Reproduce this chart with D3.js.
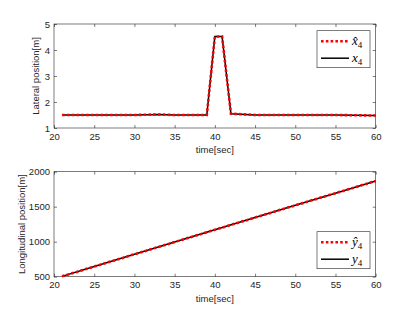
<!DOCTYPE html>
<html>
<head>
<meta charset="utf-8">
<script src="https://cdn.jsdelivr.net/npm/d3@7"></script>
<style>
  body { margin: 0; background: #fff; }
  svg { display: block; font-family: "Liberation Sans", Arial, sans-serif; }
  .axis text { fill: #262626; font-size: 9.5px; }
  .axis path, .axis line { stroke: #262626; stroke-width: 0.6; }
  .lbl { fill: #262626; font-size: 9.5px; }
  .est { fill: none; stroke: #ff0000; stroke-width: 2.6; stroke-dasharray: 2.6 2.2; }
  .act { fill: none; stroke: #000; stroke-width: 1.5; }
  .leg text { font-family: "Liberation Serif", "DejaVu Serif", serif; font-style: italic; font-size: 13px; fill: #000; }
</style>
</head>
<body>
<svg id="chart" width="415" height="312"></svg>
<script>
// lateral position (top)
var latTime = [21, 25, 30, 33, 35, 39, 40, 40.9, 42, 45, 50, 55, 60];
var latEst  = [1.5, 1.5, 1.5, 1.52, 1.5, 1.5, 4.52, 4.52, 1.55, 1.5, 1.5, 1.5, 1.48];
var latAct  = [1.5, 1.5, 1.5, 1.52, 1.5, 1.5, 4.52, 4.52, 1.55, 1.5, 1.5, 1.5, 1.48];

// longitudinal position (bottom)
var lonTime = [21, 25, 30, 35, 40, 45, 50, 55, 60];
var lonEst  = [505, 645, 820, 995, 1170, 1345, 1520, 1693, 1867];
var lonAct  = [505, 645, 820, 995, 1170, 1345, 1520, 1693, 1867];

var xTicks = [20, 25, 30, 35, 40, 45, 50, 55, 60];
var latTicks = [1, 2, 3, 4, 5];
var lonTicks = [500, 1000, 1500, 2000];

var svg = d3.select("#chart");
var left = 54, right = 375.7;

function panel(top, bottom, yDomain, yTicks, time, est, act, ylabel, yLabelX, legY, legNames) {
  var x = d3.scaleLinear().domain([20, 60]).range([left, right]);
  var y = d3.scaleLinear().domain(yDomain).range([bottom, top]);
  var g = svg.append("g");

  // box + mirrored ticks
  g.append("g").attr("class", "axis").attr("transform", "translate(0," + bottom + ")")
    .call(d3.axisBottom(x).tickValues(xTicks).tickSize(-3).tickPadding(5).tickFormat(d3.format("d")));
  g.append("g").attr("class", "axis").attr("transform", "translate(0," + top + ")")
    .call(d3.axisTop(x).tickValues(xTicks).tickSize(-3).tickFormat(""));
  g.append("g").attr("class", "axis").attr("transform", "translate(" + left + ",0)")
    .call(d3.axisLeft(y).tickValues(yTicks).tickSize(-3).tickPadding(4).tickFormat(d3.format("d")));
  g.append("g").attr("class", "axis").attr("transform", "translate(" + right + ",0)")
    .call(d3.axisRight(y).tickValues(yTicks).tickSize(-3).tickFormat(""));
  g.selectAll(".axis path").attr("d", null);
  g.append("rect").attr("x", left).attr("y", top).attr("width", right - left).attr("height", bottom - top)
    .attr("fill", "none").attr("stroke", "#262626").attr("stroke-width", 0.6);

  var line = d3.line().x(function (d, i) { return x(time[i]); }).y(function (d) { return y(d); });
  g.append("path").datum(act).attr("class", "act").attr("d", line);
  g.append("path").datum(est).attr("class", "est").attr("d", line);

  g.append("text").attr("class", "lbl").attr("text-anchor", "middle")
    .attr("x", (left + right) / 2).attr("y", bottom + 25).text("time[sec]");
  g.append("text").attr("class", "lbl").attr("text-anchor", "middle")
    .attr("transform", "translate(" + yLabelX + "," + (top + bottom) / 2 + ") rotate(-90)").text(ylabel);

  // legend
  var leg = g.append("g").attr("class", "leg");
  leg.append("rect").attr("x", 317).attr("y", legY).attr("width", 53).attr("height", 37)
    .attr("fill", "#fff").attr("stroke", "#262626").attr("stroke-width", 0.6);
  [0, 1].forEach(function (k) {
    var ly = legY + 10.5 + k * 17;
    leg.append("line").attr("class", k === 0 ? "est" : "act")
      .attr("x1", 321).attr("x2", 349).attr("y1", ly).attr("y2", ly);
    var t = leg.append("text").attr("x", 352).attr("y", ly + 4);
    t.append("tspan").text(legNames[k]);
    t.append("tspan").attr("dy", 2.5).style("font-size", "9px").style("font-style", "normal").text("4");
  });
}

panel(24, 128, [1, 5], latTicks, latTime, latEst, latAct, "Lateral position[m]", 39, 30.7, ["x\u0302", "x"]);
panel(171.7, 276.7, [500, 2000], lonTicks, lonTime, lonEst, lonAct, "Longitudinal position[m]", 25, 231.7, ["y\u0302", "y"]);
</script>
</body>
</html>
